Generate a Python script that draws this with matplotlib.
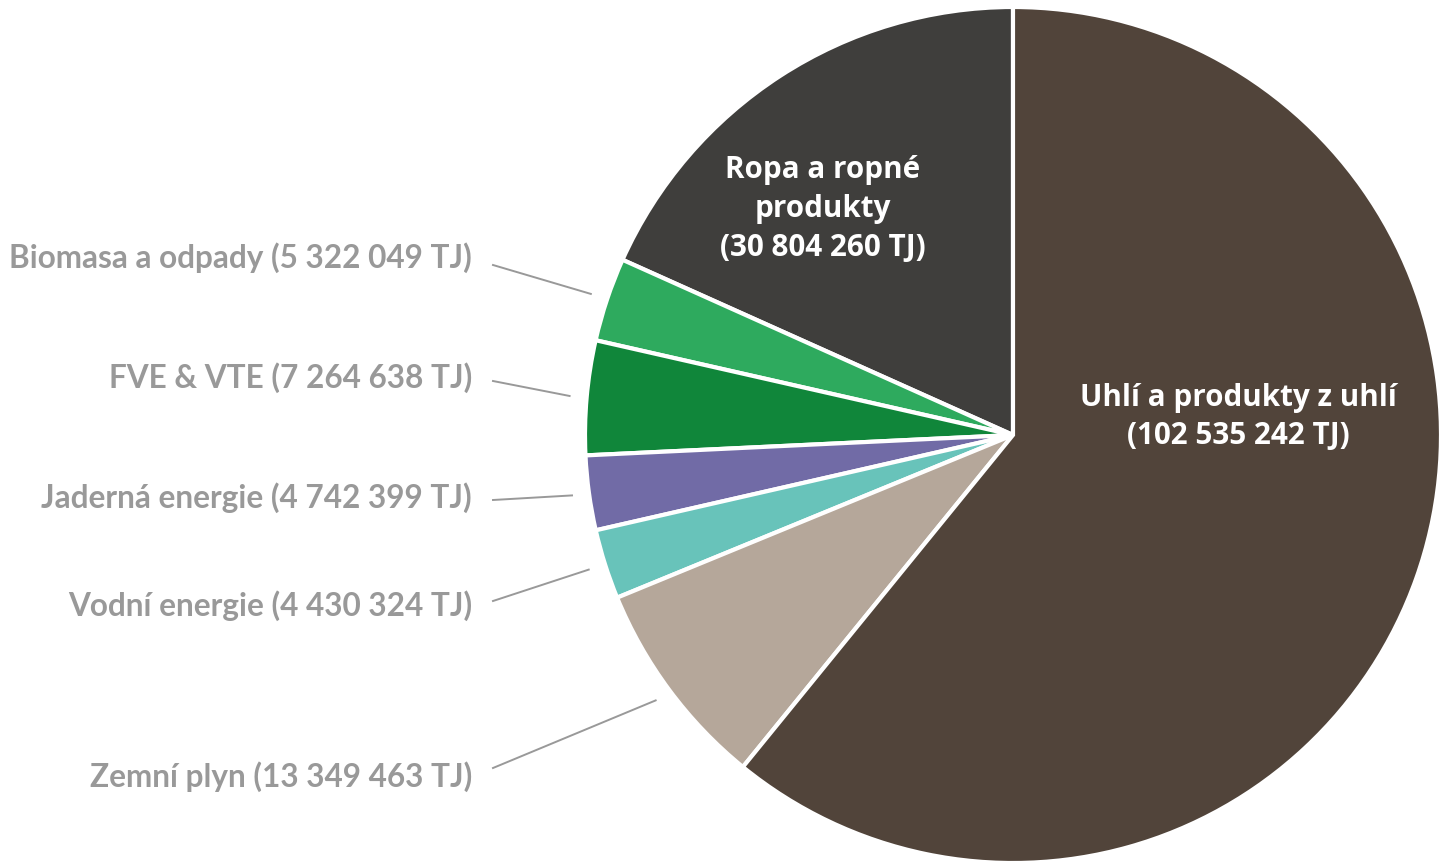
import matplotlib.pyplot as plt
import numpy as np

# data (TJ), counter-clockwise from the top: Ropa first, then down the left side
labels = ["Ropa a ropné\nprodukty", "Biomasa a odpady", "FVE & VTE", "Jaderná energie",
          "Vodní energie", "Zemní plyn", "Uhlí a produkty z uhlí"]
values = [30804260, 5322049, 7264638, 4742399, 4430324, 13349463, 102535242]
value_text = ["30 804 260", "5 322 049", "7 264 638", "4 742 399",
              "4 430 324", "13 349 463", "102 535 242"]
colors = ["#3f3e3c", "#2eaa5e", "#10863a", "#716ba6", "#68c3ba", "#b5a79a", "#51443a"]

W, H = 1447, 866
fig = plt.figure(figsize=(W / 100, H / 100), dpi=100)
ax = fig.add_axes([0, 0, 1, 1])

cx, cy, r = 1013, H - 435, 428
wedges, _ = ax.pie(values, colors=colors, startangle=90, counterclock=True,
                   center=(cx, cy), radius=r, frame=True,
                   wedgeprops=dict(edgecolor="white", linewidth=3))
ax.set_xlim(0, W)
ax.set_ylim(0, H)
ax.set_aspect("equal")
ax.axis("off")

grey = "#999999"
outer_font = dict(family="Lato", weight="bold", fontsize=22.7, color=grey)

# outside labels for the small slices
label_y = {1: 258, 2: 378, 3: 498, 4: 606, 5: 777}
line_y = {1: 265, 2: 381, 3: 500, 4: 601, 5: 768}
for i, y in label_y.items():
    w = wedges[i]
    mid = np.deg2rad((w.theta1 + w.theta2) / 2)
    ex = cx + 1.04 * r * np.cos(mid)
    ey = cy + 1.04 * r * np.sin(mid)
    ax.plot([493, ex], [H - line_y[i], ey], color=grey, lw=1.4)
    ax.text(472, H - y, f"{labels[i]} ({value_text[i]} TJ)", ha="right", va="center",
            **outer_font)

inner_font = dict(family="Open Sans", weight="bold", fontsize=21.3, color="white",
                  linespacing=1.38)
ax.text(823, H - 209, f"{labels[0]}\n({value_text[0]} TJ)", ha="center", va="center",
        **inner_font)
ax.text(1238, H - 417, f"{labels[6]}\n({value_text[6]} TJ)", ha="center", va="center",
        **inner_font)

fig.savefig("out.png", dpi=100, facecolor="white")
